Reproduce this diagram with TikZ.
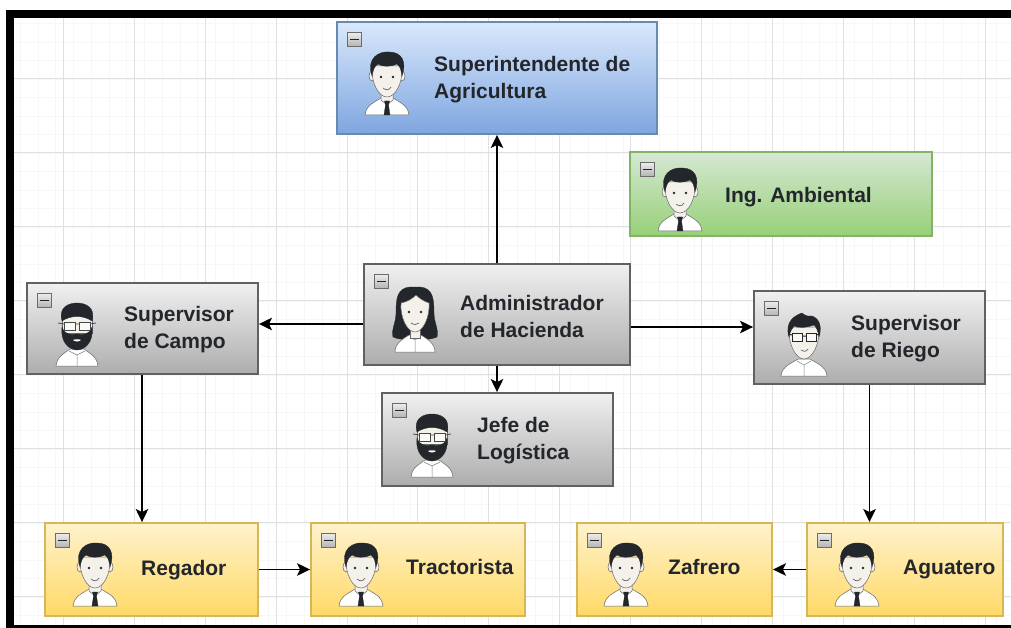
\documentclass[tikz,border=0pt]{standalone}
\usepackage{fontspec}
\setmainfont{Liberation Sans}
\usetikzlibrary{arrows.meta}
\definecolor{ink}{HTML}{23262B}
\definecolor{skin}{HTML}{F4F1EA}
\tikzset{
  orgbox/.style={draw, line width=1.3pt, inner sep=0pt, shading angle=0},
  conn/.style={draw=black, line width=1.5pt, -{Stealth[length=13pt,width=12.5pt,inset=3pt]}, shorten >=0.3pt},
  lbl/.style={anchor=west, align=left, inner sep=0pt, font=\fontsize{21}{27}\selectfont\bfseries, text=ink},
  outl/.style={draw=ink!70, line width=0.5pt},
  dark/.style={fill=ink, draw=ink, line width=0.3pt},
  minibox/.style={draw=gray!85!black, line width=1pt, top color=gray!15, bottom color=gray!60, minimum size=14pt, inner sep=0pt},
  minusbar/.style={draw=black!85, line width=1.6pt},
  gridmajor/.style={draw=gray!24, line width=0.8pt},
  gridminor/.style={draw=gray!6, line width=0.5pt},
  man/.pic={
    \path[outl,fill=white] (-22,63) .. controls (-21,53) and (-12,50) .. (-6,46) -- (6,46) .. controls (12,50) and (21,53) .. (22,63) -- cycle;
    \path[outl,fill=skin] (-6,38) -- (-6,48) -- (0,53) -- (6,48) -- (6,38) -- cycle;
    \path[dark] (-2.5,49) -- (2.5,49) -- (1.5,53) -- (3,63) -- (-3,63) -- (-1.5,53) -- cycle;
    \path[outl,fill=skin] (-15,24) ellipse [x radius=3, y radius=5];
    \path[outl,fill=skin] (15,24) ellipse [x radius=3, y radius=5];
    \path[outl,fill=skin] (-15,14) .. controls (-16,32) and (-8,45) .. (0,45) .. controls (8,45) and (16,32) .. (15,14) -- cycle;
    \path[dark] (-15,24) .. controls (-21,6) and (-8,-1) .. (2,0) .. controls (15,0) and (20,10) .. (15,24) .. controls (14,19) and (14,15) .. (10,12) .. controls (4,15) and (-5,15) .. (-9,12) .. controls (-13,14) and (-14,19) .. (-15,24) -- cycle;
    \fill[ink] (-6,25) circle (1.4) (6,25) circle (1.4);
    \draw[ink!70, line width=0.7pt] (-4,36) .. controls (-1,38.5) and (2,38.5) .. (4,35);
  },
  glassesman/.pic={
    \path[outl,fill=white] (-23,63) .. controls (-22,53) and (-12,50) .. (-6,46) -- (6,46) .. controls (12,50) and (22,53) .. (23,63) -- cycle;
    \draw[ink!60, line width=0.5pt] (-7,48) -- (0,52) -- (7,48) (0,52) -- (0,63);
    \path[outl,fill=skin] (-15,14) .. controls (-16,32) and (-8,46) .. (0,46) .. controls (8,46) and (16,32) .. (15,14) -- cycle;
    \path[dark] (-15,24) .. controls (-20,8) and (-8,2) .. (-2,0) .. controls (2,4) and (6,3) .. (8,3) .. controls (16,6) and (18,14) .. (15,24) .. controls (14,17) and (12,14) .. (10,12) .. controls (2,15) and (-6,15) .. (-10,13) .. controls (-12,16) and (-14,18) .. (-15,24) -- cycle;
    \draw[ink, line width=1pt, fill=white, fill opacity=.6] (-12,20) rectangle (-2,28) (2,20) rectangle (12,28);
    \draw[ink, line width=1pt] (-2,23) -- (2,23) (-12,22) -- (-16,21) (12,22) -- (16,21);
    \draw[ink!70, line width=0.7pt] (-3,37) .. controls (-1,39) and (2,39) .. (4,36);
  },
  beardman/.pic={
    \path[outl,fill=white] (-21,63) .. controls (-20,53) and (-12,50) .. (-7,46) -- (7,46) .. controls (12,50) and (20,53) .. (21,63) -- cycle;
    \draw[ink!60, line width=0.5pt] (-8,48) -- (0,52) -- (8,48) (0,52) -- (0,63);
    \path[outl,fill=skin] (-15,12) -- (-15,30) -- (15,30) -- (15,12) -- cycle;
    \path[dark] (-15,18) .. controls (-19,4) and (-8,0) .. (0,0) .. controls (8,0) and (19,4) .. (15,18) .. controls (6,12) and (-6,12) .. (-15,18) -- cycle;
    \path[dark] (-15,24) .. controls (-17,40) and (-7,47) .. (0,47) .. controls (7,47) and (17,40) .. (15,24) .. controls (12,32) and (7,32) .. (0,31) .. controls (-7,32) and (-12,32) .. (-15,24) -- cycle;
    \fill[white] (-4,37) .. controls (-2,36) and (2,36) .. (4,37) .. controls (2,39) and (-2,39) .. (-4,37) -- cycle;
    \draw[ink!85, line width=0.8pt, fill=white, fill opacity=.6] (-13,19) rectangle (-2,27) (2,19) rectangle (13,27);
    \draw[ink!85, line width=0.8pt] (-2,21) -- (2,21) (-13,21) -- (-19,20) (13,21) -- (19,20);
  },
  woman/.pic={
    \path[dark] (-5,0) .. controls (-18,1) and (-19,12) .. (-19,26) .. controls (-19,36) and (-24,42) .. (-22,50) .. controls (-14,54) and (14,54) .. (22,50) .. controls (24,42) and (19,36) .. (19,26) .. controls (19,12) and (18,1) .. (5,0) -- cycle;
    \path[outl,fill=white] (-20,65) .. controls (-20,56) and (-12,52) .. (-6,48) -- (6,48) .. controls (12,52) and (20,56) .. (20,65) -- cycle;
    \draw[ink!60, line width=0.5pt] (-5,50) -- (0,53) -- (5,50) (0,53) -- (0,65);
    \path[fill=skin, draw=ink!70, line width=0.5pt] (-5,40) rectangle (5,51);
    \path[outl,fill=skin] (-14,16) .. controls (-15,30) and (-8,45) .. (0,45) .. controls (8,45) and (15,30) .. (14,16) .. controls (8,14) and (4,11) .. (1,8) .. controls (-3,12) and (-8,15) .. (-14,16) -- cycle;
    \fill[ink] (-6,25) circle (1.4) (6,25) circle (1.4);
    \draw[ink!70, line width=0.7pt] (-4,36) .. controls (-1,38) and (2,38) .. (4,36);
  },
}
\definecolor{blueT}{HTML}{DAE8FC}
\definecolor{blueB}{HTML}{7EA6E0}
\definecolor{greenT}{HTML}{D5E8D4}
\definecolor{greenB}{HTML}{97D077}
\definecolor{grayT}{HTML}{F0F0F0}
\definecolor{grayB}{HTML}{ADADAD}
\definecolor{yellowT}{HTML}{FFF2CC}
\definecolor{yellowB}{HTML}{FFD966}
\definecolor{blueS}{HTML}{668AB0}
\definecolor{greenS}{HTML}{82B366}
\definecolor{yellowS}{HTML}{D6B656}
\tikzset{
  blueb/.style={orgbox, draw=blueS, top color=blueT, bottom color=blueB},
  greenb/.style={orgbox, draw=greenS, top color=greenT, bottom color=greenB},
  grayb/.style={orgbox, draw=black!62, top color=grayT, bottom color=grayB},
  yellowb/.style={orgbox, draw=yellowS, top color=yellowT, bottom color=yellowB},
}
\newcommand{\orgnode}[6]{% name, style, x0, y0, x1, y1
  \pgfmathsetmacro{\boxw}{#5-#3}\pgfmathsetmacro{\boxh}{#6-#4}
  \pgfmathsetmacro{\boxcx}{(#3+#5)/2}\pgfmathsetmacro{\boxcy}{(#4+#6)/2}
  \node[#2, minimum width=\boxw pt, minimum height=\boxh pt] (#1) at (\boxcx,\boxcy) {};
  \node[minibox] (#1m) at (#3+17.5,#4+17.5) {};
  \draw[minusbar] ([xshift=-4.5pt]#1m.center) -- ([xshift=4.5pt]#1m.center);
}
\begin{document}
\begin{tikzpicture}[x=1pt,y=-1pt]
\useasboundingbox (0,0) rectangle (1011,628);
\fill[white] (0,0) rectangle (1011,628);
% grid
\foreach \gx in {20,37.75,...,1010} {\draw[gridminor] (\gx,18) -- (\gx,625);}
\foreach \gy in {23.5,42,...,625} {\draw[gridminor] (14,\gy) -- (1011,\gy);}
\foreach \gx in {63,134,205,276,347,417,488,559,630,701,772,843,914,985} {\draw[gridmajor] (\gx,18) -- (\gx,625);}
\foreach \gy in {78,152,226,300,374,448,522,596} {\draw[gridmajor] (14,\gy) -- (1011,\gy);}
% frame
\fill[black] (6,10) rectangle (1011,18);
\fill[black] (6,10) rectangle (14,628);
\fill[black] (6,624.5) rectangle (1011,628);
% boxes
\orgnode{sup}{blueb}{337}{22}{657}{134}
\orgnode{ing}{greenb}{630}{152}{932}{236}
\orgnode{adm}{grayb}{364}{264}{630}{365}
\orgnode{jefe}{grayb}{382}{393}{613}{486}
\orgnode{campo}{grayb}{27}{283}{258}{374}
\orgnode{riego}{grayb}{754}{291}{985}{384}
\orgnode{reg}{yellowb}{45}{523}{258}{616}
\orgnode{trac}{yellowb}{311}{523}{525}{616}
\orgnode{zaf}{yellowb}{577}{523}{772}{616}
\orgnode{agua}{yellowb}{807}{523}{1003}{616}
% avatars
\pic at (387,52) {man};
\pic at (680,168) {man};
\pic at (415,287) {woman};
\pic at (432,414) {beardman};
\pic at (77,303) {beardman};
\pic at (804,313) {glassesman};
\pic at (95,543) {man};
\pic at (361,543) {man};
\pic at (626,543) {man};
\pic at (857,543) {man};
% labels
\node[lbl] (tsup) at (434,80) {Superintendente de\\Agricultura};
\node[lbl] (ting) at (725,197) {Ing. Ambiental};
\node[lbl] (tadm) at (460,316) {Administrador\\de Hacienda};
\node[lbl] (tjefe) at (477,441) {Jefe de\\Logística};
\node[lbl] (tcampo) at (124,330) {Supervisor\\de Campo};
\node[lbl] (triego) at (851,339) {Supervisor\\de Riego};
\node[lbl] (treg) at (141,570) {Regador};
\node[lbl] (ttrac) at (406,567) {Tractorista};
\node[lbl] (tzaf) at (668,567) {Zafrero};
\node[lbl] (tagua) at (903,569) {Aguatero};
% connectors
\coordinate (admL) at ([yshift=-9.5pt]adm.west);
\coordinate (admR) at ([yshift=-12.5pt]adm.east);
\coordinate (campoB) at ([xshift=-.5pt]campo.south);
\draw[conn] (adm.north) -- (sup.south);
\draw[conn] (adm.south) -- (adm.south |- jefe.north);
\draw[conn] (admL) -- (admL -| campo.east);
\draw[conn] (admR) -- (admR -| riego.west);
\draw[conn] (campoB) -- (reg.north -| campoB);
\draw[conn] (riego.south) -- (agua.north -| riego.south);
\draw[conn] (reg.east) -- (trac.west);
\draw[conn] (agua.west) -- (zaf.east);
\end{tikzpicture}
\end{document}
